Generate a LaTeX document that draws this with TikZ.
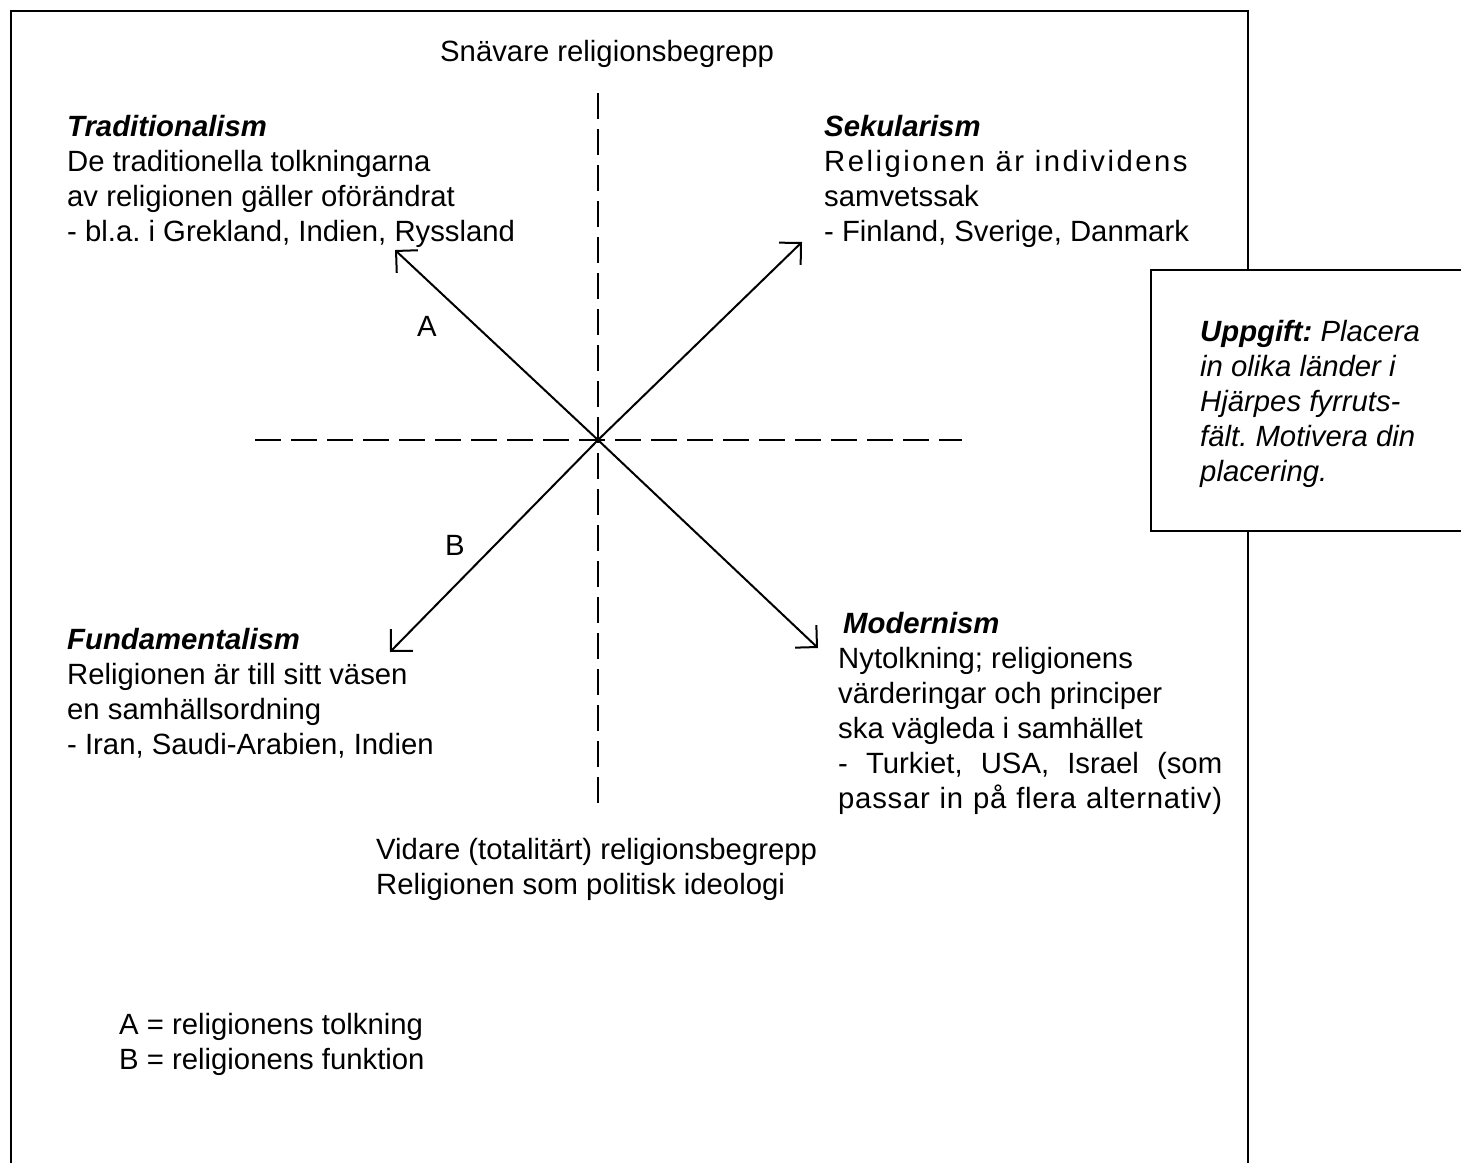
\documentclass[tikz,border=0pt]{standalone}
\usepackage{fontspec}
\setmainfont{Liberation Sans}
\usetikzlibrary{arrows.meta}
\newcommand{\jbox}[1]{\makebox[384pt][s]{#1}}
\frenchspacing
\begin{document}
\frenchspacing
\begin{tikzpicture}[x=1pt,y=-1pt,
  txt/.style={font=\fontsize{29.3}{35}\selectfont\frenchspacing, align=left, inner sep=0pt, anchor=base west},
  lbl/.style={font=\fontsize{29.3}{35}\selectfont, inner sep=0pt},
  axis/.style={line width=2.8pt, dash pattern=on 26pt off 10pt},
  arr/.style={line width=2pt, -{Straight Barb[length=15.5pt,width=31pt,line width=2pt]}},
  frame/.style={line width=2.5pt}]
\useasboundingbox (0,0) rectangle (1461,1162);
\begin{scope}
\clip (0,0) rectangle (1461,1162);
\draw[frame] (11,11) rectangle (1248,1200);
\draw[frame, fill=white] (1151,270) rectangle (1490,531);
\end{scope}

% axes
\coordinate (vt) at (598,93);
\coordinate (vb) at (598,805);
\coordinate (hl) at (255,440);
\coordinate (hr) at (962,440);
\draw[axis] (vt) -- (vb);
\draw[axis] (hl) -- (hr);

% arrows
\coordinate (c) at (598,440);
\coordinate (tnw) at (395,250);
\coordinate (tne) at (802,242);
\coordinate (tsw) at (390,652);
\coordinate (tse) at (818,648);
\draw[arr] (c) -- (tnw);
\draw[arr] (c) -- (tne);
\draw[arr] (c) -- (tsw);
\draw[arr] (c) -- (tse);

\node[lbl] (la) at (427,326) {A};
\node[lbl] (lb) at (455,545) {B};

% multi-line nodes: base anchor = baseline of the last line
\node[txt] (top) at (440,61) {Snävare religionsbegrepp};

\node[txt] (trad) at (67,241) {\textbf{\textit{Traditionalism}}\\De traditionella tolkningarna\\av religionen gäller oförändrat\\- bl.a. i Grekland, Indien, Ryssland};

\node[txt] (sek) at (824,241) {\textbf{\textit{Sekularism}}\\{\addfontfeature{LetterSpace=8.5}Religionen är individens}\\samvetssak\\- Finland, Sverige, Danmark};

\node[txt] (fund) at (67,754) {\textbf{\textit{Fundamentalism}}\\Religionen är till sitt väsen\\en samhällsordning\\- Iran, Saudi-Arabien, Indien};

\node[txt] (mod) at (838,808) {\hspace*{5pt}\textbf{\textit{Modernism}}\\Nytolkning; religionens\\värderingar och principer\\ska vägleda i samhället\\\jbox{- Turkiet, USA, Israel (som}\\\jbox{\addfontfeature{LetterSpace=2.5}passar in på flera alternativ)}};

\node[txt] (bot) at (376,894) {Vidare (totalitärt) religionsbegrepp\\Religionen som politisk ideologi};

\node[txt] (legend) at (119,1069) {A = religionens tolkning\\B = religionens funktion};

\node[txt, font=\fontsize{29.3}{35}\selectfont\itshape\frenchspacing] (task) at (1200,481) {\textbf{Uppgift:} Placera\\in olika länder i\\Hjärpes fyrruts-\\fält. Motivera din\\placering.};
\end{tikzpicture}
\end{document}
